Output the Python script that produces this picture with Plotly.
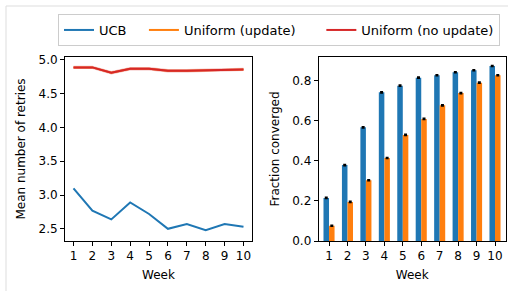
import plotly.graph_objects as go

weeks = [1, 2, 3, 4, 5, 6, 7, 8, 9, 10]
ucb_retries = [3.10, 2.77, 2.64, 2.89, 2.72, 2.50, 2.57, 2.48, 2.57, 2.53]
unif_upd_retries = [4.89, 4.89, 4.81, 4.87, 4.87, 4.84, 4.84, 4.85, 4.85, 4.86]
unif_noupd_retries = [4.89, 4.89, 4.81, 4.87, 4.87, 4.84, 4.84, 4.85, 4.85, 4.86]
noupd_err = [0.025] * 10
ucb_conv = [0.215, 0.379, 0.567, 0.742, 0.775, 0.815, 0.827, 0.842, 0.852, 0.873]
unif_conv = [0.076, 0.195, 0.303, 0.414, 0.529, 0.609, 0.677, 0.738, 0.790, 0.827]
conv_err = [0.003] * 10
legend_names = ["UCB", "Uniform (update)", "Uniform (no update)"]

BLUE = "#1f77b4"
ORANGE = "#ff7f0e"
RED = "#d62728"
FONT = "DejaVu Sans"
NB = "\u00a0"

fig = go.Figure()

upper = [v + e for v, e in zip(unif_noupd_retries, noupd_err)]
lower = [v - e for v, e in zip(unif_noupd_retries, noupd_err)]

fig.add_trace(go.Scatter(x=weeks, y=ucb_retries, mode="lines", name=legend_names[0] + NB * 3,
                         line=dict(color=BLUE, width=2), xaxis="x", yaxis="y"))
fig.add_trace(go.Scatter(x=weeks, y=unif_upd_retries, mode="lines", name=legend_names[1] + NB * 5,
                         line=dict(color=ORANGE, width=2), xaxis="x", yaxis="y"))
fig.add_trace(go.Scatter(x=weeks, y=upper, mode="lines", line=dict(width=0),
                         showlegend=False, hoverinfo="skip", xaxis="x", yaxis="y"))
fig.add_trace(go.Scatter(x=weeks, y=lower, mode="lines", line=dict(width=0),
                         fill="tonexty", fillcolor="rgba(214,39,40,0.3)",
                         showlegend=False, hoverinfo="skip", xaxis="x", yaxis="y"))
fig.add_trace(go.Scatter(x=weeks, y=unif_noupd_retries, mode="lines", name=legend_names[2],
                         line=dict(color=RED, width=2), xaxis="x", yaxis="y"))

fig.add_trace(go.Bar(x=weeks, y=ucb_conv, width=0.3, offset=-0.3, marker=dict(color=BLUE, line=dict(width=0)),
                     error_y=dict(type="data", array=conv_err, color="black", thickness=1.5, width=1.5),
                     showlegend=False, xaxis="x2", yaxis="y2"))
fig.add_trace(go.Bar(x=weeks, y=unif_conv, width=0.3, offset=0, marker=dict(color=ORANGE, line=dict(width=0)),
                     error_y=dict(type="data", array=conv_err, color="black", thickness=1.5, width=1.5),
                     showlegend=False, xaxis="x2", yaxis="y2"))

W, H = 508, 291
ax_common = dict(showline=True, linecolor="black", linewidth=1, mirror=True,
                 ticks="outside", ticklen=4, tickwidth=1, tickcolor="black",
                 showgrid=False, zeroline=False, automargin=False,
                 tickfont=dict(family=FONT, size=12, color="black"))
ytop = (H - 57) / H
ybot = (H - 241) / H

fig.update_layout(
    width=W, height=H, autosize=False,
    margin=dict(l=0, r=0, t=0, b=0, pad=0),
    paper_bgcolor="white", plot_bgcolor="white",
    font=dict(family=FONT, size=12, color="black"),
    barmode="overlay",
    xaxis=dict(domain=[65 / W, 252 / W], range=[0.55, 10.45], tickvals=weeks, anchor="y",
               title=dict(text="Week", font=dict(family=FONT, size=12), standoff=8), **ax_common),
    yaxis=dict(domain=[ybot, ytop], range=[2.32, 5.044], tickvals=[2.5, 3.0, 3.5, 4.0, 4.5, 5.0],
               tickformat=".1f", anchor="x",
               title=dict(text="Mean number of retries", font=dict(family=FONT, size=12), standoff=10), **ax_common),
    xaxis2=dict(domain=[318.7 / W, 505.7 / W], range=[0.44, 10.58], tickvals=weeks, anchor="y2",
                title=dict(text="Week", font=dict(family=FONT, size=12), standoff=8), **ax_common),
    yaxis2=dict(domain=[ybot, ytop], range=[0, 0.918], tickvals=[0, 0.2, 0.4, 0.6, 0.8],
                tickformat=".1f", anchor="x2",
                title=dict(text="Fraction converged", font=dict(family=FONT, size=12), standoff=10), **ax_common),
    legend=dict(orientation="h", x=58 / W, y=(H - 14) / H, xanchor="left", yanchor="top",
                bordercolor="#cccccc", borderwidth=1, bgcolor="white",
                font=dict(family=FONT, size=13, color="black"), traceorder="normal"),
    shapes=[
        dict(type="line", xref="paper", yref="paper", x0=6 / W, x1=6 / W, y0=0, y1=(H - 6) / H,
             line=dict(color="#dddddd", width=1)),
        dict(type="line", xref="paper", yref="paper", x0=6 / W, x1=1, y0=(H - 6) / H, y1=(H - 6) / H,
             line=dict(color="#dddddd", width=1)),
    ],
)

fig.write_html("out.html", config={"displayModeBar": False},
               post_script="document.body.style.margin='0';document.body.style.overflow='hidden';")
